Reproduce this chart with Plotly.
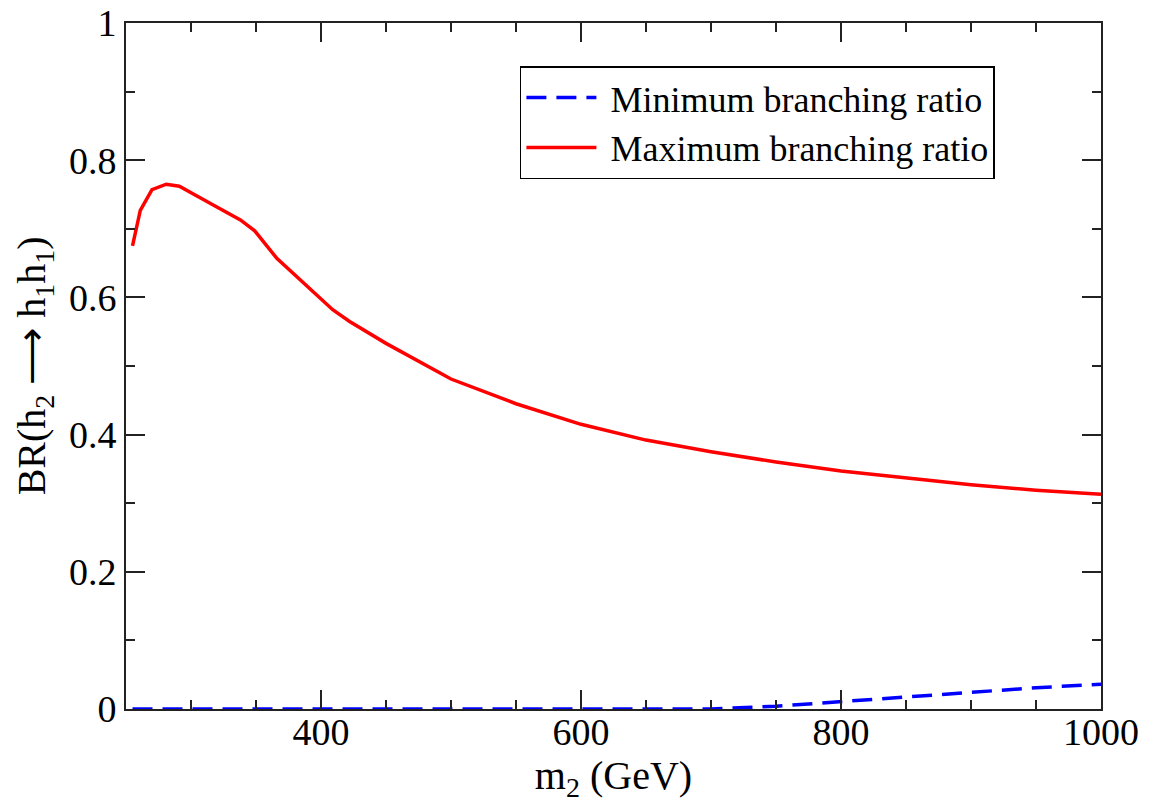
import plotly.graph_objects as go

# Maximum branching ratio (red, solid)
m2_max = [255, 261, 270, 281, 291, 299, 315, 338, 349, 366, 389, 409, 422, 450, 500, 550, 600, 650, 700, 750, 800, 850, 900, 950, 1000]
br_max = [0.675, 0.727, 0.757, 0.765, 0.762, 0.754, 0.737, 0.713, 0.697, 0.657, 0.616, 0.582, 0.565, 0.533, 0.481, 0.445, 0.415, 0.392, 0.375, 0.360, 0.347, 0.337, 0.327, 0.319, 0.313]

# Minimum branching ratio (blue, dashed)
m2_min = [255, 300, 400, 500, 600, 700, 750, 800, 850, 900, 950, 1000]
br_min = [0.0, 0.0, 0.0, 0.0, 0.0, 0.0, 0.004, 0.011, 0.018, 0.025, 0.031, 0.036]

FONT = "Liberation Serif, Times New Roman, serif"
NB = "\u00a0"

fig = go.Figure()
fig.add_trace(go.Scatter(x=m2_min, y=br_min, mode="lines", name=NB + "Minimum branching ratio",
                         line=dict(color="#0000ff", width=3.5, dash="20px,10px")))
fig.add_trace(go.Scatter(x=m2_max, y=br_max, mode="lines", name=NB + "Maximum branching ratio",
                         line=dict(color="#ff0000", width=3.5)))

axis_common = dict(showgrid=False, zeroline=False, showline=True, linecolor="#222",
                   linewidth=2, mirror="allticks", ticks="inside", ticklen=19,
                   tickwidth=1.5, tickcolor="#222", automargin=False,
                   ticklabeloverflow="allow",
                   tickfont=dict(family=FONT, size=38, color="black"))

fig.update_xaxes(range=[250, 1000], tick0=0, dtick=200,
                 minor=dict(ticks="inside", ticklen=9, dtick=50, tick0=0, tickwidth=1.5, tickcolor="#222"),
                 ticklabelstandoff=-12,
                 title=dict(text="m<sub>2</sub> (GeV)", font=dict(family=FONT, size=40, color="black"), standoff=2),
                 **axis_common)
fig.update_yaxes(range=[0, 1], tick0=0, dtick=0.2,
                 minor=dict(ticks="inside", ticklen=9, dtick=0.1, tick0=0, tickwidth=1.5, tickcolor="#222"),
                 **axis_common)

# y-axis title placed as a rotated annotation (matches reference position)
fig.add_annotation(text="BR(h<sub>2</sub> \u27f6 h<sub>1</sub>h<sub>1</sub>)",
                   xref="paper", yref="paper", x=-0.094, y=0.5,
                   xanchor="center", yanchor="middle", textangle=-90, showarrow=False,
                   font=dict(family=FONT, size=40, color="black"))

fig.update_layout(
    width=1153, height=806,
    margin=dict(l=126, r=52, t=23, b=97, autoexpand=False),
    plot_bgcolor="white", paper_bgcolor="white",
    font=dict(family=FONT, size=36, color="black"),
    legend=dict(x=0.404, y=0.937, xanchor="left", yanchor="top",
                bordercolor="black", borderwidth=1.5, bgcolor="white",
                font=dict(family=FONT, size=36, color="black"),
                itemwidth=70, tracegroupgap=0),
    showlegend=True,
)

fig.write_html("out.html",
               config={"displayModeBar": False},
               post_script="document.body.style.margin='0';document.body.style.overflow='hidden';")
